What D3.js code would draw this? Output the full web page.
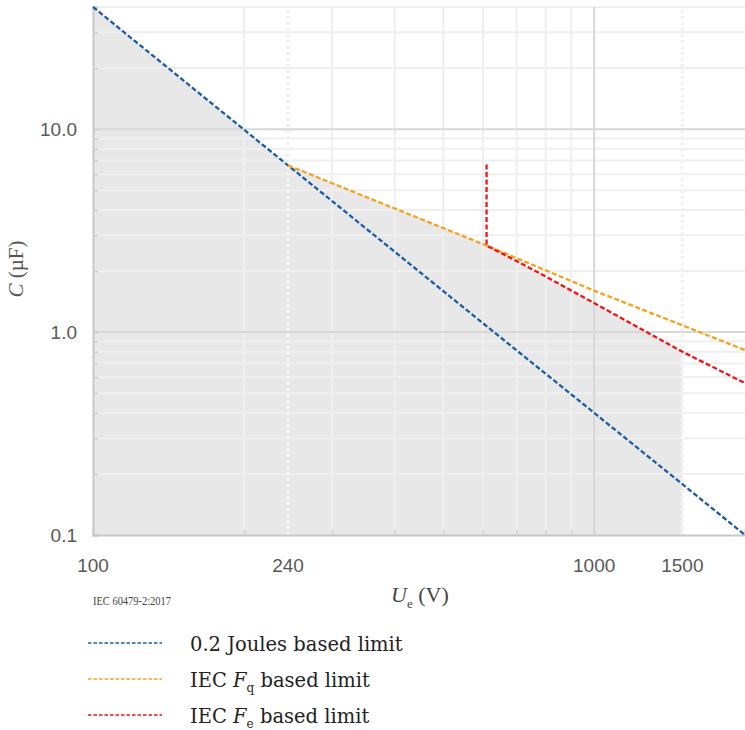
<!DOCTYPE html>
<html>
<head>
<meta charset="utf-8">
<script src="https://cdn.jsdelivr.net/npm/d3@7"></script>
<style>
  body { margin: 0; background: #fff; }
  .tick-label { font-family: "Liberation Sans", Arial, sans-serif; font-size: 19px; fill: #595959; }
  .serif { font-family: "Liberation Serif", "Times New Roman", serif; fill: #222; }
</style>
</head>
<body>
<div id="chart"></div>
<script>
// Data (U in volts, C in microfarads)
var jouleU = [100, 245, 610, 1000, 1500, 2000];
var jouleC = [40, 6.63, 1.07, 0.40, 0.178, 0.1];

var fqU = [245, 610, 1000, 1500, 2000];
var fqC = [6.63, 2.67, 1.60, 1.08, 0.815];

var feU = [610, 610, 700, 800, 1000, 1500, 2000];
var feC = [6.7, 2.67, 2.24, 1.88, 1.39, 0.80, 0.56];

var xTickValues = [100, 245, 1000, 1500];
var xTickLabels = ["100", "240", "1000", "1500"];
var yTickValues = [10, 1, 0.1];
var yTickLabels = ["10.0", "1.0", "0.1"];

var markerU = [245, 1500];   // dotted vertical markers
var shadeEndU = 1500;

var legendNames = ["0.2 Joules based limit", "IEC F q based limit", "IEC F e based limit"];
var legendColors = ["#1c5ca4", "#f5a21f", "#f21414"];

var margin = {top: 7, right: 0, bottom: 195, left: 93},
    totalW = 745, totalH = 730,
    width = totalW - margin.left - margin.right,
    height = totalH - margin.top - margin.bottom;

var x = d3.scaleLog().domain([100, 2000]).range([0, width]);
var y = d3.scaleLog().domain([0.1, 40]).range([height, 0]);

var svg = d3.select("#chart")
    .append("svg")
        .attr("width", totalW)
        .attr("height", totalH)
    .append("g")
        .attr("transform", "translate(" + margin.left + "," + margin.top + ")");

// shaded region under the lowest limit up to 1500 V
function zip(us, cs) { return us.map(function(u, i) { return {u: u, c: cs[i]}; }); }
var joule = zip(jouleU, jouleC), fq = zip(fqU, fqC), fe = zip(feU, feC);

var envelope = joule.filter(function(d) { return d.u <= fqU[0]; })
    .concat(fq.filter(function(d) { return d.u > fqU[0] && d.u < feU[0]; }))
    .concat(fe.slice(1).filter(function(d) { return d.u <= shadeEndU; }));
envelope.push({u: shadeEndU, c: 0.1});
envelope.push({u: 100, c: 0.1});

svg.append("path")
    .attr("d", d3.line().x(function(d) { return x(d.u); }).y(function(d) { return y(d.c); })(envelope) + "Z")
    .style("fill", "#e8e8e8");

// grid lines
var yMinor = [], xMinor = [];
[0.1, 1, 10].forEach(function(b) {
    for (var k = 2; k <= 9; k++) if (b * k <= 40) yMinor.push(b * k);
});
[100, 1000].forEach(function(b) {
    for (var k = 2; k <= 9; k++) if (b * k < 2000) xMinor.push(b * k);
});

svg.selectAll(".hgrid")
    .data(yMinor)
    .enter().append("line")
    .attr("x1", 0).attr("x2", width)
    .attr("y1", function(d) { return y(d); }).attr("y2", function(d) { return y(d); })
    .style("stroke", "#efefef").style("stroke-width", 2);

svg.selectAll(".vgrid")
    .data(xMinor)
    .enter().append("line")
    .attr("y1", 0).attr("y2", height)
    .attr("x1", function(d) { return x(d); }).attr("x2", function(d) { return x(d); })
    .style("stroke", "#efefef").style("stroke-width", 2);

// major grid lines
svg.selectAll(".hmajor")
    .data([10, 1])
    .enter().append("line")
    .attr("x1", 0).attr("x2", width)
    .attr("y1", function(d) { return y(d); }).attr("y2", function(d) { return y(d); })
    .style("stroke", "#d8d8d8").style("stroke-width", 2);

svg.append("line")
    .attr("y1", 0).attr("y2", height)
    .attr("x1", x(1000)).attr("x2", x(1000))
    .style("stroke", "#d8d8d8").style("stroke-width", 2);

// dotted markers at 240 V and 1500 V
svg.selectAll(".marker")
    .data(markerU)
    .enter().append("line")
    .attr("y1", 3).attr("y2", height)
    .attr("x1", function(d) { return x(d); }).attr("x2", function(d) { return x(d); })
    .style("stroke", "#f3f3f3").style("stroke-width", 4)
    .style("stroke-dasharray", "3,3");

// axes
var xAxis = d3.axisBottom(x).tickValues(xMinor.concat([1000])).tickSize(-5).tickFormat("");
var yAxis = d3.axisLeft(y).tickValues(yMinor.concat([1, 10])).tickSize(-5).tickFormat("");

svg.append("g")
    .attr("transform", "translate(0," + height + ")")
    .call(xAxis)
    .call(function(g) {
        g.select(".domain").style("stroke", "#c8c8c8").style("stroke-width", 2);
        g.selectAll(".tick line").style("stroke", "#cfcfcf").style("stroke-width", 1.5);
    });

svg.append("g")
    .call(yAxis)
    .call(function(g) {
        g.select(".domain").style("stroke", "#c8c8c8").style("stroke-width", 2);
        g.selectAll(".tick line").style("stroke", "#cfcfcf").style("stroke-width", 1.5);
    });

// tick labels
svg.selectAll(".xlab")
    .data(xTickValues)
    .enter().append("text")
    .attr("class", "tick-label")
    .attr("x", function(d) { return x(d); })
    .attr("y", height + 37)
    .style("text-anchor", "middle")
    .text(function(d, i) { return xTickLabels[i]; });

svg.selectAll(".ylab")
    .data(yTickValues)
    .enter().append("text")
    .attr("class", "tick-label")
    .attr("x", -16)
    .attr("y", function(d) { return y(d); })
    .attr("dy", "0.35em")
    .style("text-anchor", "end")
    .text(function(d, i) { return yTickLabels[i]; });

// the limit lines
var line = d3.line()
    .x(function(d) { return x(d.u); })
    .y(function(d) { return y(d.c); });

[joule, fq, fe].forEach(function(data, i) {
    svg.append("path")
        .attr("d", line(data))
        .style("fill", "none")
        .style("stroke", legendColors[i])
        .style("stroke-width", 2.3)
        .style("stroke-dasharray", "5,2.5");
});

// axis titles
var yTitle = svg.append("text")
    .attr("class", "serif")
    .attr("transform", "translate(" + (-70) + "," + 262 + ") rotate(-90)")
    .style("text-anchor", "middle")
    .style("font-size", "21px")
    .style("fill", "#555");
yTitle.append("tspan").style("font-style", "italic").text("C");
yTitle.append("tspan").text(" (\u00b5F)");

var xTitle = svg.append("text")
    .attr("class", "serif")
    .attr("x", 298)
    .attr("y", height + 67)
    .style("font-size", "22px")
    .style("fill", "#444");
xTitle.append("tspan").style("font-style", "italic").text("U");
xTitle.append("tspan").attr("dy", 6).style("font-size", "13px").text("e");
xTitle.append("tspan").attr("dy", -6).text(" (V)");

svg.append("text")
    .attr("class", "serif")
    .attr("x", 0)
    .attr("y", height + 70)
    .attr("textLength", 78)
    .attr("lengthAdjust", "spacingAndGlyphs")
    .style("font-size", "12.5px")
    .style("fill", "#444")
    .text("IEC 60479-2:2017");

// legend
var legend = svg.selectAll(".legend")
    .data(legendNames)
    .enter().append("g")
    .attr("transform", function(d, i) { return "translate(-5," + (636 + i * 36) + ")"; });

legend.append("line")
    .attr("x1", 0).attr("x2", 74)
    .style("stroke", function(d, i) { return legendColors[i]; })
    .style("stroke-width", 1.6)
    .style("stroke-dasharray", "3.5,2");

legend.each(function(d, i) {
    var t = d3.select(this).append("text")
        .attr("x", 102)
        .attr("y", 8)
        .style("font-family", "'DejaVu Serif', serif")
        .style("fill", "#222")
        .style("font-size", "19.5px");
    var parts = d.split(" ");
    if (i === 0) {
        t.text(d);
    } else {
        t.append("tspan").text(parts[0] + " ");
        t.append("tspan").style("font-style", "italic").text(parts[1]);
        t.append("tspan").attr("dy", 5).style("font-size", "12px").text(parts[2]);
        t.append("tspan").attr("dy", -5).text(" " + parts.slice(3).join(" "));
    }
});
</script>
</body>
</html>
